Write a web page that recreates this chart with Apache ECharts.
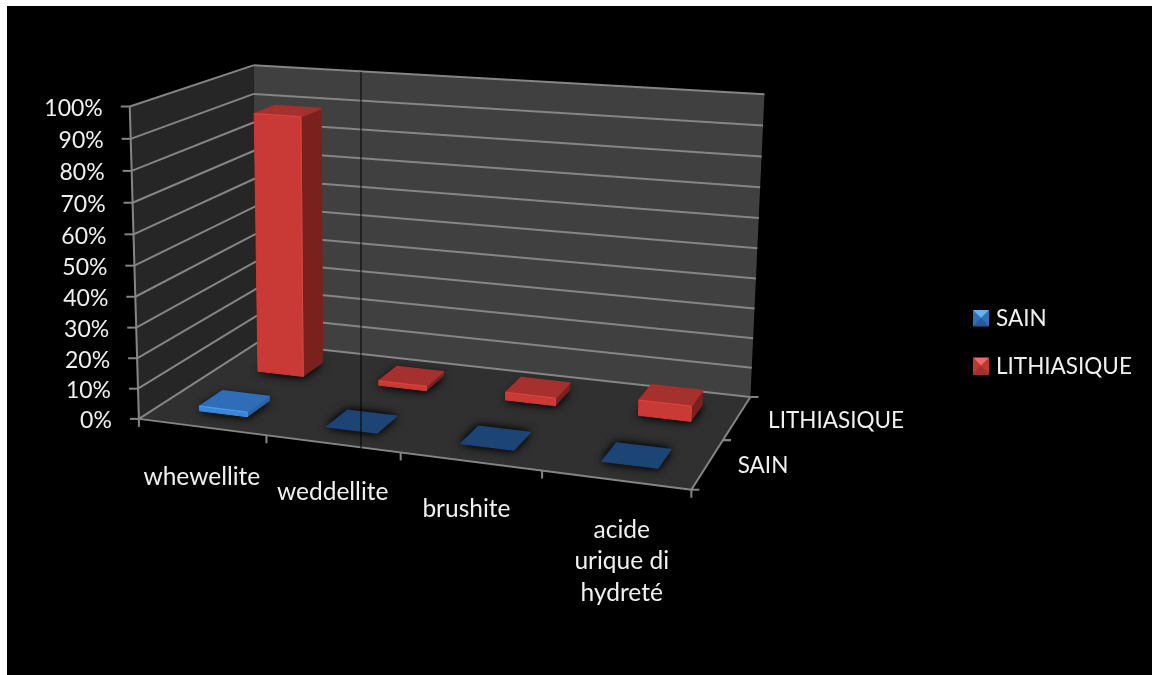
<!DOCTYPE html>
<html><head><meta charset="utf-8">
<style>
html,body{margin:0;padding:0;background:#fff;width:1152px;height:675px;overflow:hidden}
#bg{position:absolute;left:7px;top:6px;width:1145px;height:669px;background:#000}
#c{position:absolute;left:0;top:0;width:1152px;height:675px}
</style>
<script src="https://cdn.jsdelivr.net/npm/echarts@6/dist/echarts.min.js"></script>
</head><body><div id="bg"></div><div id="c"></div>
<script>
// ---- data
const categories = ['whewellite','weddellite','brushite','acide\nurique di\nhydreté'];
const seriesNames = ['SAIN','LITHIASIQUE'];
const sainValues = [1.5,0,0,0];
const lithiasiqueValues = [89,1.5,2.5,5];
const yTicks = [0,10,20,30,40,50,60,70,80,90,100];
const yTickLabels = ['0%','10%','20%','30%','40%','50%','60%','70%','80%','90%','100%'];

// ---- camera calibration: box corner (x,y,z in 0..1) -> screen; corners counted several times
const corners = [
 [0,0,0,141.7,419.3],[1,0,0,690,489.3],[1,0,1,751.7,396.7],[0,0,1,254,341.5],
 [0,1,0,127.3,105],[0,1,1,254.5,66],[1,1,1,764,94]
];
const topBackLeft = corners[5];
const anchors = [...corners,...corners,...corners,topBackLeft,topBackLeft,topBackLeft,topBackLeft,
 [.25,0,0,268,436],[.5,0,0,402,454.5],[.75,0,0,542,472.5],[1,0,.5,723,440],[0,.6,0,133,234]
];
function solveCamera(pts){
  const rows=[],rhs=[];
  pts.forEach(([x,y,z,u0,v0])=>{const u=u0/1000,v=v0/1000;
    rows.push([x,y,z,1,0,0,0,0,-u*x,-u*y,-u*z]);rhs.push(u);
    rows.push([0,0,0,0,x,y,z,1,-v*x,-v*y,-v*z]);rhs.push(v);});
  const n=11,A=[];
  for(let i=0;i<n;i++){A.push([]);for(let j=0;j<=n;j++){let s=0;
    rows.forEach((r,k)=>{s+=r[i]*(j<n?r[j]:rhs[k]);});A[i].push(s);}}
  for(let i=0;i<n;i++){let p=i;for(let k=i+1;k<n;k++)if(Math.abs(A[k][i])>Math.abs(A[p][i]))p=k;
    [A[i],A[p]]=[A[p],A[i]];
    for(let k=0;k<n;k++){if(k===i)continue;const f=A[k][i]/A[i][i];for(let j=i;j<=n;j++)A[k][j]-=f*A[i][j];}}
  return A.map((r,i)=>r[n]/r[i]);
}
const P=solveCamera(anchors);
function proj(x,y,z){
  const w=P[8]*x+P[9]*y+P[10]*z+1;
  return [1000*(P[0]*x+P[1]*y+P[2]*z+P[3])/w,1000*(P[4]*x+P[5]*y+P[6]*z+P[7])/w];
}
// axis scale -> normalized box coordinates
function norm(params,api,cat,val){
  const c=api.coord([cat,val]),s=params.coordSys;
  return [(c[0]-s.x)/s.width,(s.y+s.height-c[1])/s.height];
}
const FONT='Lato';
const WHITE='#f0f0f0';
const poly=(pts,style)=>({type:'polygon',shape:{points:pts},style});
const line=(a,b,stroke,w)=>({type:'line',shape:{x1:a[0],y1:a[1],x2:b[0],y2:b[1]},style:{stroke,lineWidth:w||2,fill:null}});
const GRIDC='#858585';

function renderFrame(){
  const c=(x,y,z)=>proj(x,y,z);
  return {type:'group',children:[
    poly([c(0,0,1),c(1,0,1),c(1,1,1),c(0,1,1)],{fill:'#404040'}),
    poly([c(0,0,0),c(0,0,1),c(0,1,1),c(0,1,0)],{fill:'#262626'}),
    poly([c(0,0,0),c(1,0,0),c(1,0,1),c(0,0,1)],{fill:'#303030'}),
    line(c(0,0,0),c(0,1,0),GRIDC,2),
    line(c(0,0,0),c(1,0,0),GRIDC,2),
    line(c(1,0,0),c(1,0,1),GRIDC,2)
  ]};
}
function renderTick(params,api){
  const v=norm(params,api,0,api.value(1))[1];
  const a=proj(0,v,0),b=proj(0,v,1),d=proj(1,v,1);
  const kids=[line(a,b,GRIDC,2),line(b,d,GRIDC,2),line(a,[a[0]-9,a[1]],GRIDC,2),
    {type:'text',style:{text:yTickLabels[params.dataIndex],x:a[0]-27,y:a[1]+2,align:'right',verticalAlign:'middle',fill:WHITE,fontFamily:FONT,fontSize:23}}];
  return {type:'group',children:kids};
}
const catOffsets=[[0,49],[0,48],[-4,47],[6,49]];
function renderCatLabel(params,api){
  const i=api.value(0);
  const u=norm(params,api,i,0)[0];
  const a=proj(u,0,0),o=catOffsets[i];
  const e=proj(i/categories.length,0,0);
  const kids=[{type:'text',style:{text:categories[i],x:a[0]+o[0],y:a[1]+o[1]-15,align:'center',verticalAlign:'top',lineHeight:31.5,fill:WHITE,fontFamily:FONT,fontSize:24.5}},
    line(e,[e[0],e[1]+8],GRIDC,2)];
  if(i===categories.length-1){const f=proj(1,0,0);kids.push(line(f,[f[0],f[1]+8],GRIDC,2));}
  return {type:'group',children:kids};
}
const depthOffsets=[[30,2],[31,3]];
function renderDepthLabel(params,api){
  const s=params.dataIndex,n=seriesNames.length;
  const a=proj(1,0,(s+.5)/n),o=depthOffsets[s];
  const kids=[{type:'text',style:{text:seriesNames[s],x:a[0]+o[0],y:a[1]+o[1],align:'left',verticalAlign:'middle',fill:WHITE,fontFamily:FONT,fontSize:22.5}}];
  for(let k=0;k<=n;k++){ if(k===s||k===s+1){const t=proj(1,0,k/n);kids.push(line(t,[t[0]+8,t[1]],GRIDC,2));} }
  return {type:'group',children:kids};
}
const BAR_FRACTION=0.38, BAR_SHIFT=0.004;
const palettes={
 SAIN:{top:'#2f6db8',front:'#3a86da',side:'#2a62a8',rim:'#4a98e8',flat:'#1c4475'},
 LITHIASIQUE:{top:'#a5302d',front:'#c93a36',side:'#7a211e',rim:'#dc423d',flat:'#a5302d'}
};
function barRenderer(name,seriesIdx){
  return function(params,api){
    const cat=api.value(0),val=api.value(1);
    const [u0,v]=norm(params,api,cat,val);
    const u=u0+BAR_SHIFT;
    const hx=BAR_FRACTION/categories.length/2, n=seriesNames.length, hz=BAR_FRACTION/n/2, zc=(seriesIdx+.5)/n;
    const x0=u-hx,x1=u+hx,z0=zc-hz,z1=zc+hz,pal=palettes[name];
    const base=[proj(x0,0,z0),proj(x1,0,z0),proj(x1,0,z1),proj(x0,0,z1)];
    const halo={fill:'#161616',shadowBlur:10,shadowColor:'rgba(0,0,0,0.9)'};
    const kids=[poly(base,halo),poly(base,halo)];
    if(val===0){
      kids.push(poly(base,{fill:pal.flat,stroke:pal.flat,lineWidth:1.5,lineJoin:'round'}));
    }else{
      const t=[proj(x0,v,z0),proj(x1,v,z0),proj(x1,v,z1),proj(x0,v,z1)];
      kids.push(poly([base[1],base[2],t[2],t[1]],{fill:pal.side,stroke:pal.side,lineWidth:1,lineJoin:'round'}));
      kids.push(poly([base[0],base[1],t[1],t[0]],{fill:pal.front,stroke:pal.front,lineWidth:1,lineJoin:'round'}));
      kids.push(poly(t,{fill:pal.top,stroke:pal.top,lineWidth:1.5,lineJoin:'round'}));
      kids.push(line(t[0],t[1],pal.rim,1.5));
      kids.push(line(base[1],t[1],pal.rim,1));
    }
    return {type:'group',children:kids};
  };
}
const barSeries=(name,values,idx,z)=>({
  type:'custom',name,z,coordinateSystem:'cartesian2d',silent:true,
  itemStyle:{color:name==='SAIN'?'#2a5a96':'#a5302d'},
  renderItem:barRenderer(name,idx),
  data:values.map((v,i)=>[i,v]),encode:{x:0,y:1}
});
const chart=echarts.init(document.getElementById('c'));
const bevel=(x,y,light,mid)=>[
  {type:'polygon',z:100,shape:{points:[[x,y],[x+8,y+8],[x,y+16]]},style:{fill:mid}},
  {type:'polygon',z:100,shape:{points:[[x+16,y],[x+8,y+8],[x+16,y+16]]},style:{fill:mid}},
  {type:'polygon',z:100,shape:{points:[[x,y],[x+16,y],[x+8,y+8]]},style:{fill:light}}
];
chart.setOption({
  animation:false,
  backgroundColor:'transparent',
  grid:{left:0,top:0,width:1000,height:600,show:false},
  xAxis:{type:'category',data:categories,show:false},
  yAxis:{type:'value',min:0,max:100,interval:10,show:false},
  legend:{data:seriesNames.map(n=>({name:n,icon:'rect'})),orient:'vertical',left:968,top:302,itemWidth:16,itemHeight:16,itemGap:25.5,
    textStyle:{color:WHITE,fontFamily:FONT,fontSize:22.5,padding:[0,0,0,2]},selectedMode:false},
  graphic:[
    ...bevel(973,310,'#6ab0f0','#3070b5'),
    ...bevel(973,357.5,'#ee6a6a','#bf3835'),
    {type:'line',z:100,shape:{x1:361,y1:72,x2:361,y2:450},style:{stroke:'#000',lineWidth:1}}
  ],
  series:[
    {type:'custom',name:'_frame',z:1,silent:true,renderItem:renderFrame,data:[[0,0]]},
    {type:'custom',name:'_grid',z:2,silent:true,renderItem:renderTick,data:yTicks.map(v=>[0,v]),encode:{x:0,y:1}},
    {type:'custom',name:'_cats',z:2,silent:true,renderItem:renderCatLabel,data:categories.map((c,i)=>[i,0]),encode:{x:0,y:1}},
    {type:'custom',name:'_depth',z:2,silent:true,renderItem:renderDepthLabel,data:seriesNames.map(()=>[0,0]),encode:{x:0,y:1}},
    barSeries('LITHIASIQUE',lithiasiqueValues,1,3),
    barSeries('SAIN',sainValues,0,4)
  ]
});
</script></body></html>
